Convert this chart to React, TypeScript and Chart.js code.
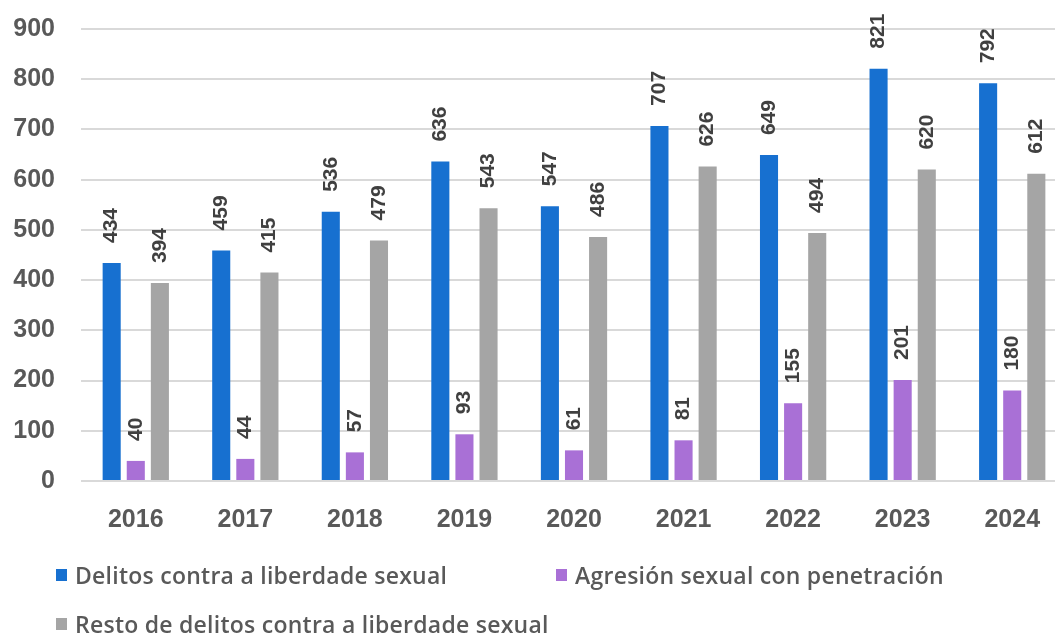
import React, { useEffect, useRef } from "react";
import { Chart, registerables } from "chart.js";

Chart.register(...registerables);

const years = ["2016", "2017", "2018", "2019", "2020", "2021", "2022", "2023", "2024"];
const delitos = [434, 459, 536, 636, 547, 707, 649, 821, 792];
const agresion = [40, 44, 57, 93, 61, 81, 155, 201, 180];
const resto = [394, 415, 479, 543, 486, 626, 494, 620, 612];
const seriesNames = [
  "Delitos contra a liberdade sexual",
  "Agresión sexual con penetración",
  "Resto de delitos contra a liberdade sexual",
];
const seriesColors = ["#1770D0", "#A970D6", "#A5A5A5"];
const yTicks = [0, 100, 200, 300, 400, 500, 600, 700, 800, 900];

const FONT = "'Liberation Sans', Arial, sans-serif";

const valueLabels = {
  id: "valueLabels",
  afterDatasetsDraw(chart: any) {
    const ctx = chart.ctx;
    ctx.save();
    ctx.font = `bold 21px ${FONT}`;
    ctx.fillStyle = "#404040";
    chart.data.datasets.forEach((ds: any, di: number) => {
      const meta = chart.getDatasetMeta(di);
      meta.data.forEach((bar: any, i: number) => {
        ctx.save();
        ctx.translate(bar.x, bar.y - 20);
        ctx.rotate(-Math.PI / 2);
        ctx.textAlign = "left";
        ctx.textBaseline = "middle";
        ctx.fillText(String(ds.data[i]), 0, 0);
        ctx.restore();
      });
    });
    ctx.restore();
  },
};

export default function App() {
  const ref = useRef<HTMLCanvasElement | null>(null);

  useEffect(() => {
    if (!ref.current) return;
    const chart = new Chart(ref.current, {
      type: "bar",
      data: {
        labels: years,
        datasets: [delitos, agresion, resto].map((d, k) => ({
          label: seriesNames[k],
          data: d,
          backgroundColor: seriesColors[k],
          categoryPercentage: 0.66,
          barPercentage: 0.75,
        })),
      },
      options: {
        animation: false,
        responsive: false,
        layout: { padding: { top: 29, left: 0, right: 0, bottom: 0 } },
        plugins: { legend: { display: false }, tooltip: { enabled: false } },
        scales: {
          x: {
            grid: { display: false, drawTicks: false },
            border: { display: false },
            ticks: {
              color: "#595959",
              font: { family: FONT, size: 25, weight: "bold" },
              padding: 24,
              maxRotation: 0,
            },
            afterFit: (s: any) => {
              s.height = 152;
              s.paddingLeft = 0;
              s.paddingRight = 0;
            },
          },
          y: {
            min: 0,
            max: 900,
            afterBuildTicks: (s: any) => {
              s.ticks = yTicks.map((v) => ({ value: v }));
            },
            grid: { color: "#D9D9D9", lineWidth: 2, drawTicks: false },
            border: { display: false },
            ticks: {
              color: "#595959",
              font: { family: FONT, size: 25, weight: "bold" },
              padding: 26,
            },
            afterFit: (s: any) => {
              s.width = 81;
              s.paddingTop = 0;
              s.paddingBottom = 0;
            },
          },
        },
      },
      plugins: [valueLabels],
    });
    return () => chart.destroy();
  }, []);

  const legendText: React.CSSProperties = {
    fontFamily: "'Open Sans', 'Noto Sans', sans-serif",
    fontWeight: 600,
    fontSize: 23,
    letterSpacing: 0.25,
    color: "#595959",
    whiteSpace: "nowrap",
  };
  const item = (k: number, left: number, top: number) => (
    <div
      key={k}
      style={{ position: "absolute", left, top, display: "flex", alignItems: "center", height: 30 }}
    >
      <span
        style={{ display: "inline-block", width: 11, height: 12, background: seriesColors[k], marginRight: 8 }}
      />
      <span style={legendText}>{seriesNames[k]}</span>
    </div>
  );

  return (
    <div
      style={{
        position: "absolute",
        left: 0,
        top: 0,
        width: 1055,
        height: 633,
        overflow: "hidden",
        background: "#ffffff",
      }}
    >
      <canvas ref={ref} width={1067} height={633} style={{ display: "block", width: 1067, height: 633 }} />
      {item(0, 56, 560)}
      {item(1, 556, 560)}
      {item(2, 56, 609)}
    </div>
  );
}
